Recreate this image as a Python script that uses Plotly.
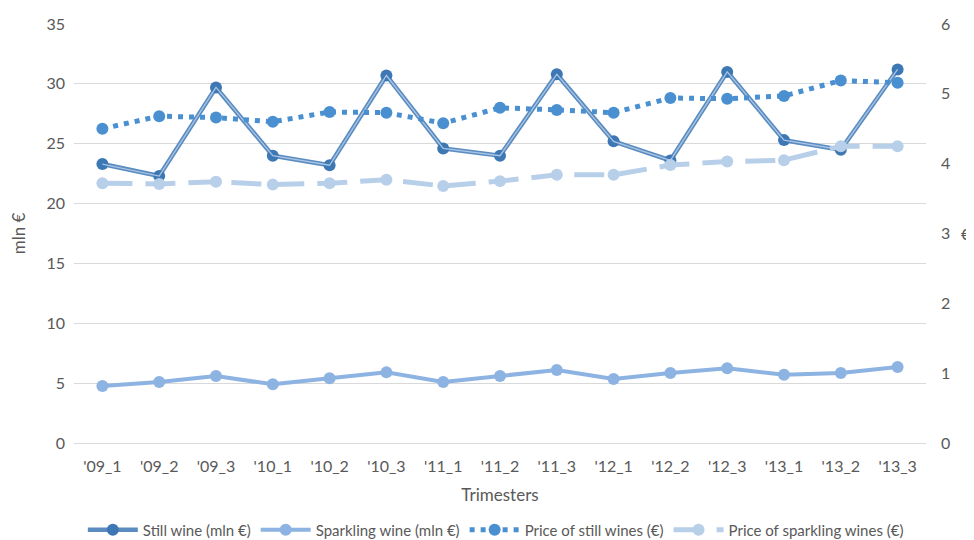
import plotly.graph_objects as go

categories = ["'09_1", "'09_2", "'09_3", "'10_1", "'10_2", "'10_3", "'11_1", "'11_2",
              "'11_3", "'12_1", "'12_2", "'12_3", "'13_1", "'13_2", "'13_3"]
still_wine = [23.3, 22.3, 29.7, 24.0, 23.2, 30.7, 24.6, 24.0, 30.8, 25.2, 23.6, 31.0, 25.3, 24.5, 31.2]
sparkling_wine = [4.76, 5.1, 5.6, 4.9, 5.4, 5.9, 5.1, 5.6, 6.1, 5.35, 5.85, 6.25, 5.7, 5.85, 6.35]
price_still = [4.5, 4.68, 4.66, 4.6, 4.74, 4.73, 4.58, 4.8, 4.77, 4.73, 4.94, 4.93, 4.97, 5.19, 5.16]
price_sparkling = [3.72, 3.71, 3.74, 3.70, 3.72, 3.77, 3.68, 3.75, 3.84, 3.84, 3.98, 4.03, 4.05, 4.25, 4.25]

FONT = "Lato"
TXT = "#595959"

fig = go.Figure()

# Still wine: compound (double) line
fig.add_trace(go.Scatter(
    x=categories, y=still_wine, name="Still wine (mln €)", mode="lines+markers",
    line=dict(color="#5a8cc0", width=4.5),
    marker=dict(color="#3d78b4", size=12),
    yaxis="y", legendrank=1))
fig.add_trace(go.Scatter(
    x=categories, y=still_wine, name="Still wine inner", mode="lines",
    line=dict(color="#a9c4e4", width=1.3), showlegend=False, hoverinfo="skip",
    yaxis="y"))
fig.add_trace(go.Scatter(
    x=categories, y=sparkling_wine, name="Sparkling wine (mln €)", mode="lines+markers",
    line=dict(color="#8db3e2", width=4),
    marker=dict(color="#8db3e2", size=12),
    yaxis="y", legendrank=2))
fig.add_trace(go.Scatter(
    x=categories, y=price_still, name="Price of still wines (€)", mode="lines+markers",
    line=dict(color="#4a90d0", width=5, dash="5px,6px"),
    marker=dict(color="#4a90d0", size=12),
    yaxis="y2", legendrank=3))
fig.add_trace(go.Scatter(
    x=categories, y=price_sparkling, name="Price of sparkling wines (€)", mode="lines+markers",
    line=dict(color="#b8cfea", width=5, dash="30px,13px"),
    marker=dict(color="#b8cfea", size=12),
    yaxis="y2", legendrank=4))

fig.update_layout(
    width=966, height=532,
    margin=dict(l=66, r=48, t=16, b=97, autoexpand=False),
    paper_bgcolor="white", plot_bgcolor="white",
    font=dict(family=FONT, color=TXT, size=16),
    showlegend=True,
    legend=dict(orientation="h", x=0.505, xref="container", xanchor="center",
                y=0.019, yref="container", yanchor="middle",
                font=dict(size=15, color=TXT), itemwidth=50, tracegroupgap=0),
    xaxis=dict(
        type="category", categoryorder="array", categoryarray=categories,
        showgrid=False, showline=True, linecolor="#d9d9d9", ticks="",
        automargin=False, ticklabelstandoff=9,
        tickfont=dict(size=16, color=TXT),
        title=dict(text="Trimesters", font=dict(size=17, color=TXT), standoff=14),
        range=[-0.5, len(categories) - 0.5]),
    yaxis=dict(
        range=[0, 35], dtick=5, showgrid=True, gridcolor="#d9d9d9", gridwidth=1,
        zeroline=False, showline=False, ticks="", automargin=False,
        ticklabelstandoff=8,
        tickfont=dict(size=16, color=TXT),
        title=dict(text="mln €", font=dict(size=17, color=TXT), standoff=24)),
    yaxis2=dict(
        range=[0, 6], dtick=1, overlaying="y", side="right", showgrid=False,
        zeroline=False, showline=False, ticks="", ticklabelstandoff=14,
        automargin=False,
        tickfont=dict(size=16, color=TXT)),
    annotations=[dict(text="€", xref="paper", yref="paper", x=1.0, y=0.5,
                      xshift=40, showarrow=False, xanchor="center", yanchor="middle",
                      font=dict(size=16, color=TXT))],
)

fig.write_html("out.html")
